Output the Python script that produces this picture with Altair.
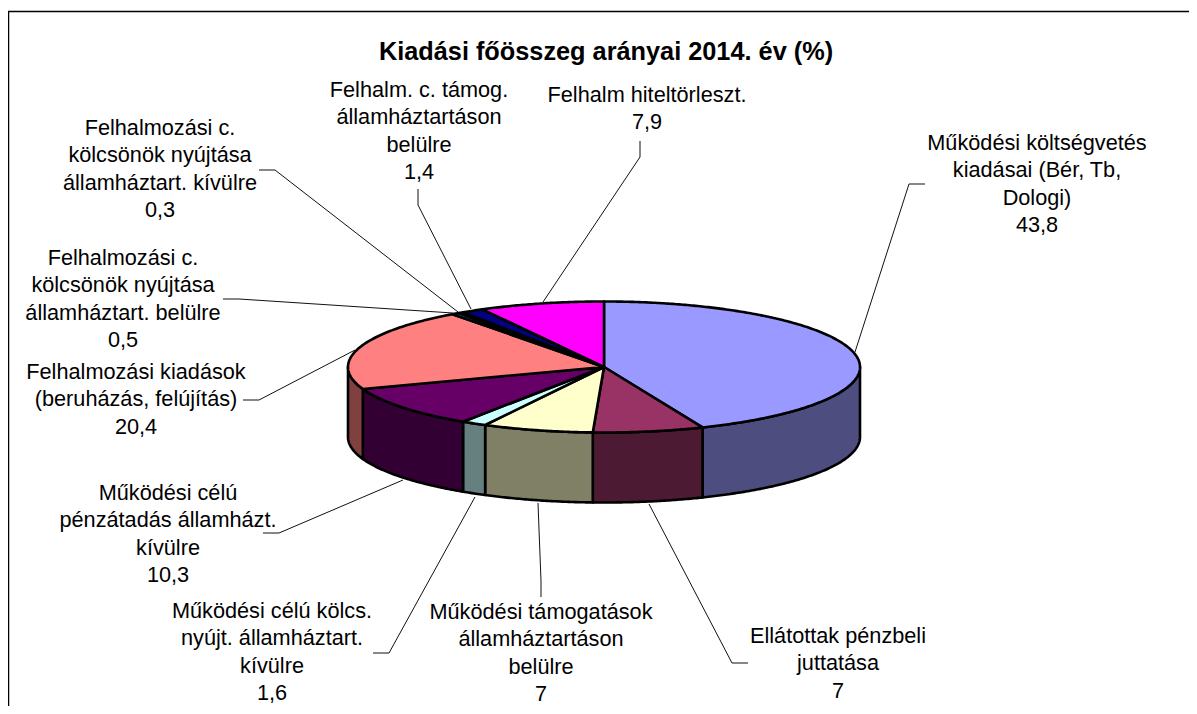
import altair as alt
import numpy as np
import pandas as pd

# ---- chart content ----
TITLE = "Kiadási főösszeg arányai 2014. év (%)"
names = [
    "Működési költségvetés\nkiadásai (Bér, Tb,\nDologi)",
    "Ellátottak pénzbeli\njuttatása",
    "Működési támogatások\nállamháztartáson\nbelülre",
    "Működési célú kölcs.\nnyújt. államháztart.\nkívülre",
    "Működési célú\npénzátadás államházt.\nkívülre",
    "Felhalmozási kiadások\n(beruházás, felújítás)",
    "Felhalmozási c.\nkölcsönök nyújtása\nállamháztart. belülre",
    "Felhalmozási c.\nkölcsönök nyújtása\nállamháztart. kívülre",
    "Felhalm. c. támog.\nállamháztartáson\nbelülre",
    "Felhalm hiteltörleszt.",
]
values = [43.8, 7, 7, 1.6, 10.3, 20.4, 0.5, 0.3, 1.4, 7.9]

# ---- styles ----
top_colors = ["#9999FF", "#993366", "#FFFFCC", "#CCFFFF", "#660066",
              "#FF8080", "#0066CC", "#CCCCFF", "#000080", "#FF00FF"]
side_colors = ["#4D4D80", "#4D1A33", "#808066", "#668080", "#330033",
               "#804040", "#003366", "#666680", "#000040", "#800080"]

# ---- layout (page pixels) ----
W, H = 1189, 706   # the drawable part of the window
CX, CY, RX, RY, DEPTH = 604, 367, 256, 65.5, 70
label_x = [1037, 838, 541, 272, 168, 136, 123, 160, 419, 647]
label_y = [150, 643, 619, 618, 500, 379, 265, 135, 97, 102]
leader_paths = [
    [(855, 352), (909, 184), (925, 184)],
    [(649, 504), (732, 663), (748, 663)],
    [(538, 503), (541, 581), (541, 597)],
    [(475, 497), (389, 653), (373, 653)],
    [(403, 480), (279, 533), (263, 533)],
    [(355, 350), (259, 400), (243, 400)],
    [(453, 313), (239, 299), (223, 299)],
    [(458, 312), (275, 170), (259, 170)],
    [(471, 309), (418, 205), (418, 189)],
    [(543, 302), (640, 157), (640, 141)],
]

# ---- projection of the pie onto the tilted disc ----
total = sum(values)
edges = np.concatenate([[0.0], np.cumsum(values)]) / total * 360.0


def project(deg, drop=0.0):
    t = np.radians(deg)
    return CX + RX * np.sin(t), CY - RY * np.cos(t) + drop


top_rows, side_rows = [], []
for k, name in enumerate(names):
    a0, a1 = edges[k], edges[k + 1]
    ang = np.linspace(a0, a1, max(3, int((a1 - a0) * 2) + 2))
    xs, ys = project(ang)
    pts = [(CX, CY)] + list(zip(xs, ys))
    for i, (px, py) in enumerate(pts):
        top_rows.append(dict(series=f"t{k}", i=i, px=px, py=py))
    s0, s1 = max(a0, 90.0), min(a1, 270.0)
    if s1 > s0:
        ang = np.linspace(s0, s1, max(3, int((s1 - s0) * 2) + 2))
        xs, ys = project(ang)
        xb, yb = project(ang[::-1], DEPTH)
        for i, (px, py) in enumerate(zip(np.r_[xs, xb], np.r_[ys, yb])):
            side_rows.append(dict(series=f"s{k}", i=i, px=px, py=py))

leader_rows = [dict(series=k, i=i, px=p[0], py=p[1])
               for k, path in enumerate(leader_paths) for i, p in enumerate(path)]

labels = pd.DataFrame({
    "text": [f"{n}\n{str(v).replace('.', ',')}" for n, v in zip(names, values)],
    "px": label_x,
    "py": label_y,
})

xs = alt.Scale(domain=[8, W], range=[0, W - 8], nice=False, zero=False)
ys = alt.Scale(domain=[8, H], range=[0, H - 8], nice=False, zero=False)
X = alt.X("px:Q", scale=xs, axis=None)
Y = alt.Y("py:Q", scale=ys, axis=None)

fill_scale = alt.Scale(
    domain=[f"t{k}" for k in range(len(names))] + [f"s{k}" for k in range(len(names))],
    range=top_colors + side_colors,
)


def polygons(rows):
    return alt.Chart(pd.DataFrame(rows)).mark_line(
        stroke="black", strokeWidth=2.6, interpolate="linear-closed", strokeJoin="round"
    ).encode(
        x=X, y=Y, order=alt.Order("i:Q"),
        fill=alt.Fill("series:N", scale=fill_scale, legend=None),
    )


sides = polygons(side_rows)
tops = polygons(top_rows)

leaders = alt.Chart(pd.DataFrame(leader_rows)).mark_line(
    color="#111111", strokeWidth=1
).encode(x=X, y=Y, detail="series:N", order=alt.Order("i:Q"))

frame = alt.Chart(pd.DataFrame([
    dict(series="top", i=0, px=8, py=11.5), dict(series="top", i=1, px=W, py=11.5),
    dict(series="left", i=0, px=8.5, py=11.5), dict(series="left", i=1, px=8.5, py=H),
])).mark_line(color="black", strokeWidth=1.5).encode(
    x=X, y=Y, detail="series:N", order=alt.Order("i:Q"))

text = alt.Chart(labels).mark_text(
    font="Liberation Sans", fontSize=21.7, lineBreak="\n", lineHeight=27.3,
    align="center", baseline="alphabetic", color="black",
).encode(x=X, y=Y, text="text:N")

title = alt.Chart(pd.DataFrame({"text": [TITLE], "px": [606], "py": [60]})).mark_text(
    font="Liberation Sans", fontSize=25.3, fontWeight="bold",
    align="center", baseline="alphabetic", color="black",
).encode(x=X, y=Y, text="text:N")

chart = alt.layer(frame, sides, tops, leaders, text, title).properties(
    width=W - 8, height=H - 8, padding=0,
    autosize=alt.AutoSizeParams(type="none"),
    background="white",
).configure_view(stroke=None)

chart.save("out.html", embed_options={"renderer": "svg", "actions": False})
